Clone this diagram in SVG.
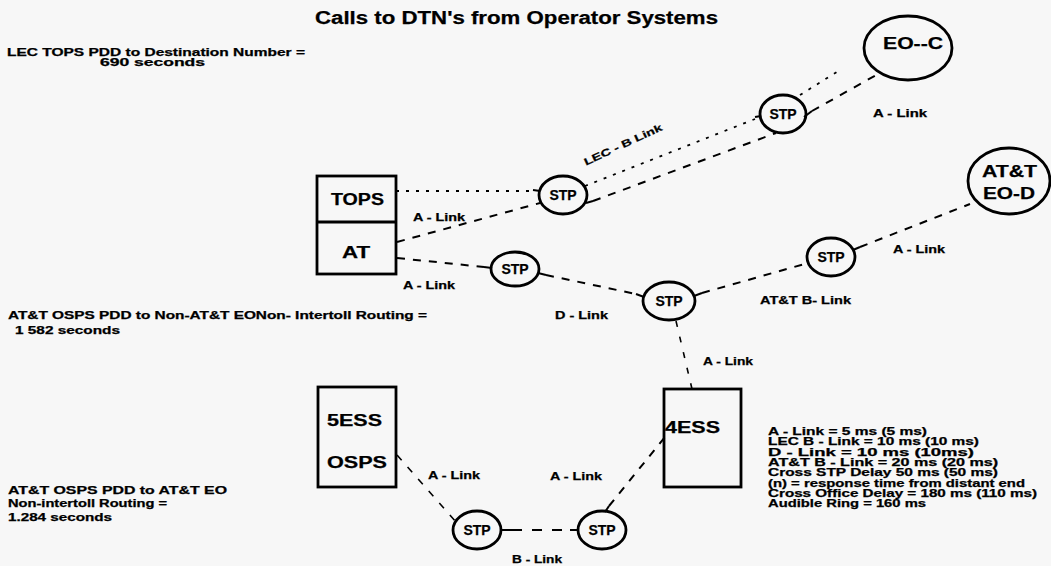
<svg xmlns="http://www.w3.org/2000/svg" width="1051" height="566" viewBox="0 0 1051 566">
<style>
text{font-family:"Liberation Sans",Arial,sans-serif;font-weight:bold;fill:#000;stroke:#000;stroke-width:0.25}
.t{font-size:10px}
.lbl{font-size:10px}
.node{font-size:16px}
.stp{font-size:14px}
.shape{fill:none;stroke:#000;stroke-width:2.8}
.dash{fill:none;stroke:#000;stroke-width:2;stroke-dasharray:8 8}
.dot{fill:none;stroke:#000;stroke-width:1.8;stroke-dasharray:3 7}
.tick{fill:none;stroke:#000;stroke-width:2}
</style>
<rect width="1051" height="566" fill="#f7f7f7"/>
<text x="315" y="24" font-size="18" textLength="403" lengthAdjust="spacingAndGlyphs">Calls to DTN's from Operator Systems</text>
<g id="notes">
<text class="t" x="7" y="56" textLength="298" lengthAdjust="spacingAndGlyphs">LEC TOPS PDD to Destination Number =</text>
<text class="t" x="100" y="66" textLength="105" lengthAdjust="spacingAndGlyphs">690 seconds</text>
<text class="t" x="8" y="319" textLength="419" lengthAdjust="spacingAndGlyphs">AT&amp;T OSPS PDD to Non-AT&amp;T EONon- Intertoll Routing =</text>
<text class="t" x="15" y="334" textLength="105" lengthAdjust="spacingAndGlyphs">1 582 seconds</text>
<text class="t" x="8" y="494" textLength="219" lengthAdjust="spacingAndGlyphs">AT&amp;T OSPS PDD to AT&amp;T EO</text>
<text class="t" x="8" y="507" textLength="159" lengthAdjust="spacingAndGlyphs">Non-intertoll Routing =</text>
<text class="t" x="8" y="521" textLength="104" lengthAdjust="spacingAndGlyphs">1.284 seconds</text>
</g>
<g id="legend">
<text class="t" x="768" y="435" textLength="159" lengthAdjust="spacingAndGlyphs">A - Link = 5 ms (5 ms)</text>
<text class="t" x="768" y="445.3" textLength="211" lengthAdjust="spacingAndGlyphs">LEC B - Link = 10 ms (10 ms)</text>
<text class="t" x="768" y="455.6" textLength="206" lengthAdjust="spacingAndGlyphs">D - Link = 10 ms (10ms)</text>
<text class="t" x="768" y="466" textLength="230" lengthAdjust="spacingAndGlyphs">AT&amp;T B - Link = 20 ms (20 ms)</text>
<text class="t" x="768" y="476.3" textLength="230" lengthAdjust="spacingAndGlyphs">Cross STP Delay 50 ms (50 ms)</text>
<text class="t" x="768" y="486.6" textLength="257" lengthAdjust="spacingAndGlyphs">(n) = response time from distant end</text>
<text class="t" x="768" y="497" textLength="269" lengthAdjust="spacingAndGlyphs">Cross Office Delay = 180 ms (110 ms)</text>
<text class="t" x="768" y="507.3" textLength="158" lengthAdjust="spacingAndGlyphs">Audible Ring = 160 ms</text>
</g>
<g id="connectors">
<path class="dot" d="M396,191 L533,191"/>
<path class="dash" d="M397,242 L540,203"/>
<path class="dot" d="M585,186 L755,119"/>
<path class="dot" d="M800,95 L840,70"/>
<path class="dash" d="M593,201 L776,133"/>
<path class="dash" d="M812,111 L878,74"/>
<path class="dash" d="M397,258 L484,267"/>
<path class="dash" d="M546,275 L636,294"/>
<path class="dash" d="M702,293 L808,263"/>
<path class="dash" d="M860,247 L970,204"/>
<path class="dash" d="M676,321 L692,389" style="stroke-width:1.6;stroke-dasharray:6 10"/>
<path class="dash" d="M397,455 L456,522" style="stroke-width:1.6;stroke-dasharray:7 9"/>
<path class="dash" d="M512,530 L570,530" style="stroke-dasharray:10 10"/>
<path class="dash" d="M609,506 L665,437"/>
<path class="tick" d="M533,190 L540,191"/>
<path class="tick" d="M586,203 L593,201"/>
<path class="tick" d="M755,117 L761,116"/>
<path class="tick" d="M804,117 L812,111"/>
<path class="tick" d="M484,267 L492,268"/>
<path class="tick" d="M538,273 L546,275"/>
<path class="tick" d="M636,294 L644,297"/>
<path class="tick" d="M694,296 L702,293"/>
<path class="tick" d="M853,250 L860,247"/>
<path class="tick" d="M501,530 L512,530"/>
<path class="tick" d="M570,530 L578,530"/>
<path class="tick" d="M605,512 L609,506"/>
</g>
<g id="link-labels">
<text class="lbl" x="413" y="220.5" textLength="52" lengthAdjust="spacingAndGlyphs">A - Link</text>
<text class="lbl" x="403" y="288.5" textLength="52" lengthAdjust="spacingAndGlyphs">A - Link</text>
<text class="lbl" x="0" y="0" textLength="85" lengthAdjust="spacingAndGlyphs" transform="translate(624,148) rotate(-25) translate(-42,0)">LEC - B Link</text>
<text class="lbl" x="873" y="116.5" textLength="54" lengthAdjust="spacingAndGlyphs">A - Link</text>
<text class="lbl" x="893" y="252.5" textLength="52" lengthAdjust="spacingAndGlyphs">A - Link</text>
<text class="lbl" x="760" y="303.5" textLength="91" lengthAdjust="spacingAndGlyphs">AT&amp;T B- Link</text>
<text class="lbl" x="555" y="318.5" textLength="53" lengthAdjust="spacingAndGlyphs">D - Link</text>
<text class="lbl" x="703" y="364.5" textLength="50" lengthAdjust="spacingAndGlyphs">A - Link</text>
<text class="lbl" x="428" y="478.5" textLength="52" lengthAdjust="spacingAndGlyphs">A - Link</text>
<text class="lbl" x="550" y="479.5" textLength="52" lengthAdjust="spacingAndGlyphs">A - Link</text>
<text class="lbl" x="512" y="562.5" textLength="50" lengthAdjust="spacingAndGlyphs">B - Link</text>
</g>
<g id="tops-at">
<rect class="shape" x="317" y="176" width="79" height="98"/>
<line class="shape" x1="317" y1="222" x2="396" y2="222"/>
<text class="node" x="331" y="205" textLength="53" lengthAdjust="spacingAndGlyphs">TOPS</text>
<text class="node" x="342" y="258" textLength="28" lengthAdjust="spacingAndGlyphs">AT</text>
</g>
<g id="sess-osps">
<rect class="shape" x="318" y="387" width="78" height="100"/>
<text class="node" x="327" y="426" textLength="55" lengthAdjust="spacingAndGlyphs">5ESS</text>
<text class="node" x="327" y="468" textLength="60" lengthAdjust="spacingAndGlyphs">OSPS</text>
</g>
<g id="ess4">
<rect class="shape" x="664" y="389" width="77" height="98"/>
<text class="node" x="665" y="433" textLength="55" lengthAdjust="spacingAndGlyphs">4ESS</text>
</g>
<g id="eo-c">
<ellipse class="shape" cx="908" cy="48" rx="44" ry="32"/>
<text class="node" x="883" y="49" textLength="60" lengthAdjust="spacingAndGlyphs" font-size="17">EO--C</text>
</g>
<g id="eo-d">
<ellipse class="shape" cx="1009" cy="181" rx="41" ry="33"/>
<text class="node" x="982" y="177" textLength="55" lengthAdjust="spacingAndGlyphs">AT&amp;T</text>
<text class="node" x="983" y="199" textLength="52" lengthAdjust="spacingAndGlyphs">EO-D</text>
</g>
<g id="stp-upper">
<ellipse class="shape" cx="783" cy="114" rx="23" ry="19"/>
<text class="stp" x="783" y="119" text-anchor="middle">STP</text>
</g>
<g id="stp-tops">
<ellipse class="shape" cx="563" cy="195" rx="24" ry="19"/>
<text class="stp" x="563" y="200" text-anchor="middle">STP</text>
</g>
<g id="stp-at">
<ellipse class="shape" cx="515" cy="269" rx="24" ry="17"/>
<text class="stp" x="515" y="274" text-anchor="middle">STP</text>
</g>
<g id="stp-center">
<ellipse class="shape" cx="669" cy="301" rx="26" ry="19"/>
<text class="stp" x="669" y="306" text-anchor="middle">STP</text>
</g>
<g id="stp-right">
<ellipse class="shape" cx="831" cy="257" rx="24" ry="19"/>
<text class="stp" x="831" y="262" text-anchor="middle">STP</text>
</g>
<g id="stp-bottom-left">
<ellipse class="shape" cx="477" cy="530" rx="24" ry="19"/>
<text class="stp" x="477" y="535" text-anchor="middle">STP</text>
</g>
<g id="stp-bottom-right">
<ellipse class="shape" cx="602" cy="530" rx="24" ry="19"/>
<text class="stp" x="602" y="535" text-anchor="middle">STP</text>
</g>
</svg>
